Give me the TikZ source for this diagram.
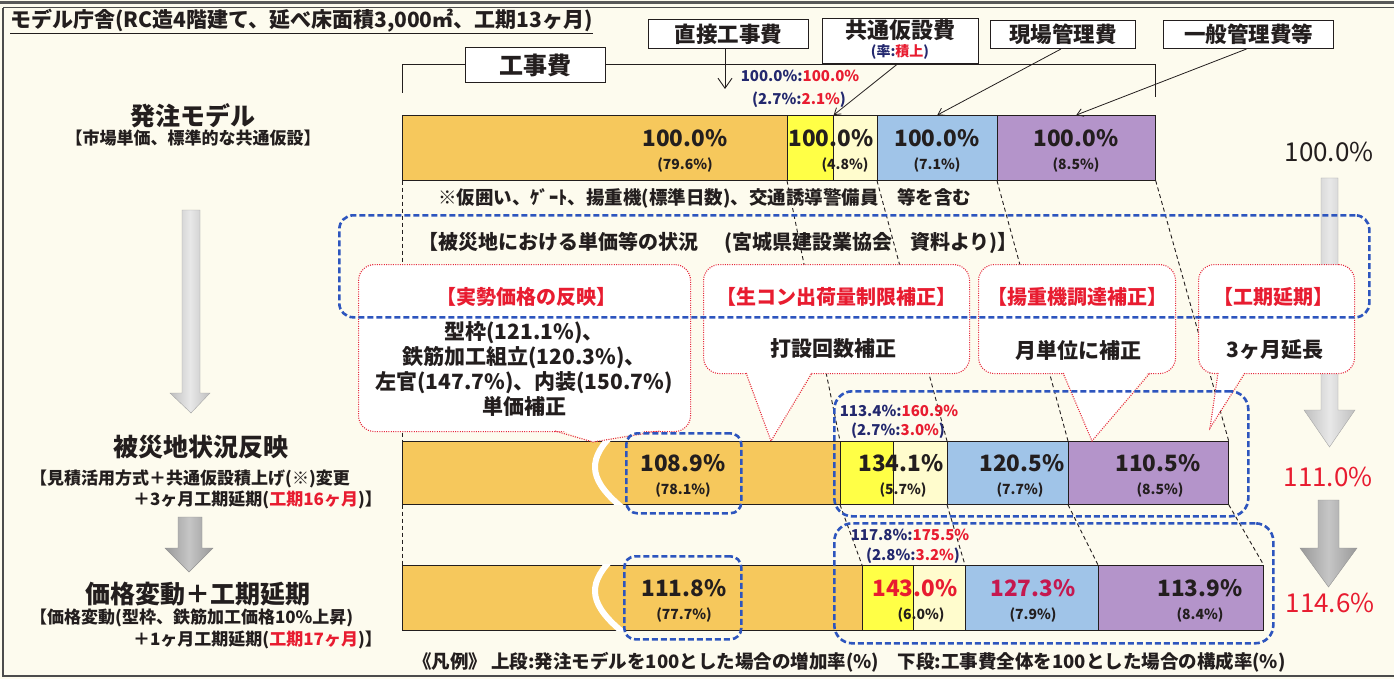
\documentclass[tikz,border=0pt]{standalone}
\usepackage{fontspec}
\setmainfont{Noto Sans CJK JP}
\usetikzlibrary{arrows.meta}
\definecolor{bg}{RGB}{253,251,238}
\definecolor{orng}{RGB}{246,200,92}
\definecolor{ylw}{RGB}{255,255,70}
\definecolor{pale}{RGB}{255,252,205}
\definecolor{lblue}{RGB}{160,196,232}
\definecolor{purp}{RGB}{180,148,202}
\definecolor{navy}{RGB}{35,40,110}
\definecolor{redt}{RGB}{232,28,48}
\definecolor{bdash}{RGB}{45,85,190}
\definecolor{dotred}{RGB}{230,40,60}
\definecolor{ink}{RGB}{35,30,30}
\newcommand\myfs[2]{\fontsize{#1}{#2}\selectfont}
\begin{document}
\begin{tikzpicture}[x=1pt,y=-1pt,
  seg/.style={draw=ink, line width=0.7pt, inner sep=0pt, anchor=north west},
  big/.style={font=\myfs{22.5}{22.5}\bfseries, text=ink, inner sep=0pt},
  sml/.style={font=\myfs{14}{14}\bfseries, text=ink, inner sep=0pt},
  ann/.style={font=\myfs{15}{15}\bfseries, inner sep=0pt},
  lbl/.style={draw=ink, line width=1pt, fill=white, inner sep=0pt, anchor=north west, font=\myfs{21.5}{21.5}\bfseries, text=ink},
  bluebox/.style={draw=bdash, line width=2.6pt, dash pattern=on 6pt off 3pt, rounded corners=14pt, inner sep=0pt, anchor=north west},
  callout/.style={draw=dotred, line width=1.1pt, dash pattern=on 1pt off 1.3pt, fill=white, rounded corners=16pt, inner sep=0pt, anchor=north west},
  ptrline/.style={draw=dotred, line width=1.1pt, dash pattern=on 1pt off 1.3pt},
  proj/.style={draw=ink, line width=0.9pt, dash pattern=on 4pt off 3pt},
  ptr/.style={draw=ink, line width=0.8pt, -{Straight Barb[length=6pt,width=8pt]}},
  head/.style={font=\myfs{25}{25}\bfseries, text=ink, inner sep=0pt},
  sub/.style={font=\myfs{17}{17}\bfseries, text=ink, inner sep=0pt},
  ctitle/.style={font=\myfs{20}{20}\bfseries, text=redt, inner sep=0pt},
  cbody/.style={font=\myfs{21}{24.7}\bfseries, text=ink, inner sep=0pt, align=center},
  rc/.style={font=\myfs{26}{26}, text=ink, inner sep=0pt},
  lightarrow/.style={left color=gray!50, right color=gray!50, middle color=gray!18, draw=gray!70},
  darkarrow/.style={left color=gray!80, right color=gray!80, middle color=gray!45, draw=gray!85}
]
\useasboundingbox (0,0) rectangle (1394,679);
\fill[bg] (0,0) rectangle (1394,679);
% frame
\draw[gray!70!black, line width=3pt] (0,2.5) -- (1394,2.5);
\draw[gray!60!black, line width=1pt] (3,8) -- (1394,8);
\draw[gray!60!black, line width=1.5pt] (3,8) -- (3,676) -- (1394,676);

% title
\node[anchor=west, inner sep=0pt, font=\myfs{21}{21}\bfseries, text=ink] (title) at (10,21) {モデル庁舎(RC造4階建て、延べ床面積3,000㎡、工期13ヶ月)};
\draw[ink, line width=1.2pt] ([yshift=-1pt]title.south west) -- ([yshift=-1pt]title.south east);

% right column arrows (behind callouts)
\shade[lightarrow]
  (1321,178) -- (1338,178) -- (1338,410) -- (1355,410) -- (1329.5,447) -- (1304,410) -- (1321,410) -- cycle;
\shade[darkarrow]
  (1318,500) -- (1339,500) -- (1339,548) -- (1357,548) -- (1328.5,587) -- (1300,548) -- (1318,548) -- cycle;
\node[rc] (r1) at (1329,152) {100.0\%};
\node[rc, text=redt] (r2) at (1328,477) {111.0\%};
\node[rc, text=redt] (r3) at (1330,603) {114.6\%};

% left column
\shade[lightarrow]
  (182,210) -- (200,210) -- (200,393) -- (210,393) -- (191,413) -- (170,393) -- (182,393) -- cycle;
\shade[darkarrow]
  (178,517) -- (202,517) -- (202,548) -- (213,548) -- (189,572) -- (165,548) -- (178,548) -- cycle;
\node[head] (h1) at (193,116) {発注モデル};
\node[sub] (s1) at (193,138) {【市場単価、標準的な共通仮設】};
\node[head] (h2) at (201,447) {被災地状況反映};
\node[sub, anchor=west] (s2a) at (30,479) {【見積活用方式＋共通仮設積上げ(※)変更};
\node[sub, anchor=east] (s2b) at (382,500) {＋3ヶ月工期延期(\textcolor{redt}{工期16ヶ月})】};
\node[head] (h3) at (198,594) {価格変動＋工期延期};
\node[sub, anchor=west] (s3a) at (30,618) {【価格変動(型枠、鉄筋加工価格10\%上昇)};
\node[sub, anchor=east] (s3b) at (382,640) {＋1ヶ月工期延期(\textcolor{redt}{工期17ヶ月})】};

% bars
\node[seg, fill=orng, minimum width=385, minimum height=65] (b1o) at (402,115) {};
\node[seg, fill=ylw, minimum width=46, minimum height=65] (b1y) at (787,115) {};
\node[seg, fill=pale, minimum width=44, minimum height=65] (b1p) at (833,115) {};
\node[seg, fill=lblue, minimum width=120, minimum height=65] (b1b) at (877,115) {};
\node[seg, fill=purp, minimum width=158, minimum height=65] (b1v) at (997,115) {};

\node[seg, fill=orng, minimum width=438, minimum height=63] (b2o) at (402,441) {};
\node[seg, fill=ylw, minimum width=53, minimum height=63] (b2y) at (840,441) {};
\node[seg, fill=pale, minimum width=54, minimum height=63] (b2p) at (893,441) {};
\node[seg, fill=lblue, minimum width=121, minimum height=63] (b2b) at (947,441) {};
\node[seg, fill=purp, minimum width=160, minimum height=63] (b2v) at (1068,441) {};

\node[seg, fill=orng, minimum width=460, minimum height=65] (b3o) at (402,565) {};
\node[seg, fill=ylw, minimum width=51, minimum height=65] (b3y) at (862,565) {};
\node[seg, fill=pale, minimum width=52, minimum height=65] (b3p) at (913,565) {};
\node[seg, fill=lblue, minimum width=133, minimum height=65] (b3b) at (965,565) {};
\node[seg, fill=purp, minimum width=165, minimum height=65] (b3v) at (1098,565) {};

% breaks
\begin{scope}
\clip (400,440.3) rectangle (840,504.7);
\draw[white, line width=6pt] (611,436) .. controls (586,462) and (590,482) .. (625,510);
\end{scope}
\begin{scope}
\clip (400,564.3) rectangle (862,630.7);
\draw[white, line width=6pt] (611,560) .. controls (586,586) and (590,606) .. (625,634);
\end{scope}

% projection lines
\draw[proj] (b1o.south west) -- (b2o.north west);
\draw[proj] (b2o.south west) -- (b3o.north west);
\draw[proj] (b1y.south west) -- (b2y.north west);
\draw[proj] (b1b.south west) -- (b2b.north west);
\draw[proj] (b1v.south west) -- (b2v.north west);
\draw[proj] (b1v.south east) -- (b2v.north east);
\draw[proj] (b2y.south west) -- (b3y.north west);
\draw[proj] (b2b.south west) -- (b3b.north west);
\draw[proj] (b2v.south west) -- (b3v.north west);
\draw[proj] (b2v.south east) -- (b3v.north east);

% bar texts
\node[big] (t1a) at (685,138) {100.0\%};
\node[sml] (t1b) at (685,165) {(79.6\%)};
\node[big] (t2a) at (831,138) {100.0\%};
\node[sml] (t2b) at (845,165) {(4.8\%)};
\node[big] (t3a) at (937,138) {100.0\%};
\node[sml] (t3b) at (937,165) {(7.1\%)};
\node[big] (t4a) at (1076,138) {100.0\%};
\node[sml] (t4b) at (1076,165) {(8.5\%)};

\node[big] (u1a) at (683,463) {108.9\%};
\node[sml] (u1b) at (683,490) {(78.1\%)};
\node[big] (u2a) at (901,463) {134.1\%};
\node[sml] (u2b) at (903,490) {(5.7\%)};
\node[big] (u3a) at (1022,463) {120.5\%};
\node[sml] (u3b) at (1020,490) {(7.7\%)};
\node[big] (u4a) at (1158,463) {110.5\%};
\node[sml] (u4b) at (1160,490) {(8.5\%)};

\node[big] (v1a) at (684,588) {111.8\%};
\node[sml] (v1b) at (684,615) {(77.7\%)};
\node[big, text=redt] (v2a) at (915,588) {143.0\%};
\node[sml] (v2b) at (921,615) {(6.0\%)};
\node[big, text=redt!85!blue] (v3a) at (1033,588) {127.3\%};
\node[sml] (v3b) at (1033,615) {(7.9\%)};
\node[big] (v4a) at (1200,588) {113.9\%};
\node[sml] (v4b) at (1200,615) {(8.4\%)};

\node[ann] (x1) at (899,411) {\color{navy}113.4\%:\color{redt}160.9\%};
\node[ann] (x2) at (898,431) {\color{navy}(2.7\%:\color{redt}3.0\%\color{navy})};
\node[ann] (y1) at (910,535) {\color{navy}117.8\%:\color{redt}175.5\%};
\node[ann] (y2) at (913,556) {\color{navy}(2.8\%:\color{redt}3.2\%\color{navy})};

\node[font=\myfs{18.5}{18.5}\bfseries, text=ink, anchor=west, inner sep=0pt] (note) at (438,198) {※仮囲い、ｹﾞｰﾄ、揚重機(標準日数)、交通誘導警備員　等を含む};

% callouts
\node[callout, minimum width=332, minimum height=167] (c1) at (358,264) {};
\node[callout, minimum width=266, minimum height=109] (c2) at (703,264) {};
\node[callout, minimum width=197, minimum height=109] (c3) at (978,264) {};
\node[callout, minimum width=156, minimum height=109] (c4) at (1198,264) {};
\coordinate (c1t) at (593,442);
\coordinate (c2t) at (771,441);
\coordinate (c3t) at (1092,441);
\coordinate (c4t) at (1210,428);
\fill[white] (555,428) -- (c1t) -- (660,428) -- cycle;
\draw[ptrline] (555,431) -- (c1t) -- (660,431);
\fill[white] (746,370) -- (c2t) -- (812,370) -- cycle;
\draw[ptrline] (746,373) -- (c2t) -- (812,373);
\fill[white] (1063,370) -- (c3t) -- (1150,370) -- cycle;
\draw[ptrline] (1063,373) -- (c3t) -- (1150,373);
\fill[white] (1218,370) -- (c4t) -- (1245,370) -- cycle;
\draw[ptrline] (1218,373) -- (c4t) -- (1245,373);

\node[ctitle] (c1a) at (526,297) {【実勢価格の反映】};
\node[cbody] (c1b) at (524,369) {型枠(121.1\%)、\\鉄筋加工組立(120.3\%)、\\左官(147.7\%)、内装(150.7\%)\\単価補正};
\node[ctitle] (c2a) at (836,297) {【生コン出荷量制限補正】};
\node[cbody] (c2b) at (833,349) {打設回数補正};
\node[ctitle] (c3a) at (1077,297) {【揚重機調達補正】};
\node[cbody] (c3b) at (1078,350) {月単位に補正};
\node[ctitle] (c4a) at (1273,297) {【工期延期】};
\node[cbody] (c4b) at (1275,350) {3ヶ月延長};

% blue dashed boxes
\node[bluebox, minimum width=1030, minimum height=102] (bx1) at (338,214) {};
\node[font=\myfs{20}{20}\bfseries, text=ink, anchor=west, inner sep=0pt] (hdr) at (418,243) {【被災地における単価等の状況\hspace{26pt}(宮城県建設業協会\hspace{18pt}資料より)】};
\node[bluebox, rounded corners=11pt, minimum width=115, minimum height=80] (bx2) at (625,432) {};
\node[bluebox, rounded corners=18pt, minimum width=414, minimum height=125] (bx3) at (833,390) {};
\node[bluebox, rounded corners=11pt, minimum width=117, minimum height=83] (bx4) at (623,555) {};
\node[bluebox, rounded corners=18pt, minimum width=439, minimum height=120] (bx5) at (833,522) {};

% top labels
\node[lbl, minimum width=160, minimum height=29] (choku) at (648,19) {直接工事費};
\node[lbl, minimum width=156, minimum height=45] (kyotsu) at (822,18) {};
\node[font=\myfs{22}{22}\bfseries, text=ink, inner sep=0pt] (kyA) at (900,30) {共通仮設費};
\node[font=\myfs{14}{14}\bfseries, inner sep=0pt] (kyB) at (900,52) {\color{navy}(率:\color{redt}積上\color{navy})};
\node[lbl, minimum width=145, minimum height=28] (genba) at (990,20) {現場管理費};
\node[lbl, minimum width=170, minimum height=28] (ippan) at (1163,20) {一般管理費等};

% bracket
\draw[ink, line width=1pt] (402,93) |- (465,65);
\draw[ink, line width=1pt] (605,65) -| (1155,97);
\node[lbl, font=\myfs{24}{24}\bfseries, minimum width=140, minimum height=35] (koji) at (465,47) {工事費};

% pointer arrows
\coordinate (chend) at (725,89);
\draw[ink, line width=0.9pt, -{Straight Barb[length=10pt,width=14pt]}] (choku.south -| chend) -- (chend);
\draw[ptr] ([xshift=-3pt]kyotsu.south) -- (b1y.north east);
\draw[ptr] ([xshift=-2pt]genba.south) -- (b1b.north);
\draw[ptr] ([xshift=-2pt]ippan.south) -- (b1v.north);
\node[ann] (z1) at (800,76) {\color{navy}100.0\%:\color{redt}100.0\%};
\node[ann] (z2) at (799,100) {\color{navy}(2.7\%:\color{redt}2.1\%\color{navy})};

% legend
\node[anchor=west, font=\myfs{18.5}{18.5}\bfseries, text=ink, inner sep=0pt] (leg) at (413,662) {《凡例》 上段:発注モデルを100とした場合の増加率(\%)　下段:工事費全体を100とした場合の構成率(\%)};
\end{tikzpicture}
\end{document}
